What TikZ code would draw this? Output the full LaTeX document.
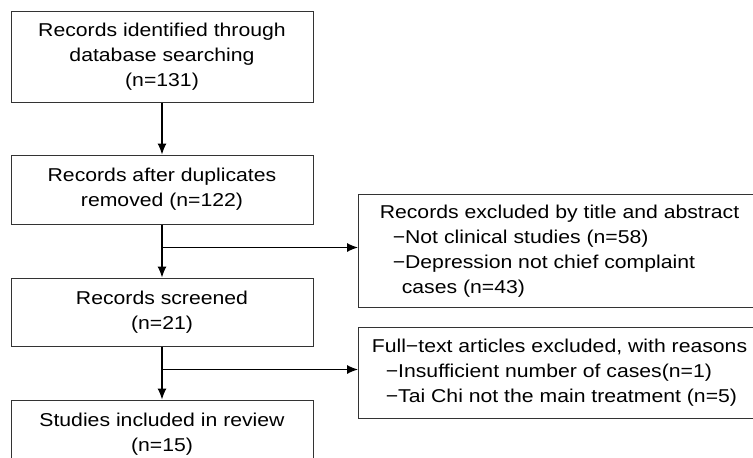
\documentclass[tikz,border=0pt]{standalone}
\usepackage{fontspec}
\setmainfont{Liberation Sans}[FakeStretch=1.14]
\usetikzlibrary{positioning, arrows.meta}
\tikzset{
arr/.style={-{Latex[length=11pt,width=9pt]}, line width=1.1pt}, % filled arrow heads
every node/.style={font=\fontsize{18.6}{25}\selectfont}, % text size of all boxes
box/.style={draw=black!80, line width=1pt, minimum width=302pt, align=center, inner sep=0pt}, % main column
side/.style={draw=black!80, line width=1pt, minimum width=402pt, align=left, inner sep=0pt}, % exclusion boxes
}
\begin{document}
\begin{tikzpicture}
            \useasboundingbox (0,0) rectangle (753pt,-458pt);
            \clip (0,0) rectangle (753pt,-458pt);
            \node[box, minimum height=91pt] (ident) at (162pt,-56.5pt) {Records identified through\\database searching\\(n=131)};
            \node[box, below=52pt of ident, minimum height=69pt] (dup) {Records after duplicates\\removed (n=122)};
            \node[box, below=53pt of dup, minimum height=68pt] (screen) {Records screened\\(n=21)};
            \node[box, below=53pt of screen, minimum height=69pt] (incl) {Studies included in review\\(n=15)};
            \coordinate (b1) at ([yshift=-23pt]dup.south);
            \coordinate (b2) at ([yshift=-23pt]screen.south);
            \node[side, right=196pt of b1, yshift=-3.5pt, minimum height=113pt] (excl) {Records excluded by title and abstract\\
                \hspace*{13pt}−Not clinical studies (n=58)\\
                \hspace*{13pt}−Depression not chief complaint\\
                \hspace*{22pt}cases (n=43)};
            \node[side, right=196pt of b2, yshift=-3.5pt, minimum height=91pt] (full) {Full−text articles excluded, with reasons\\
                \hspace*{14pt}−Insufficient number of cases(n=1)\\
                \hspace*{14pt}−Tai Chi not the main treatment (n=5)};
            \draw[arr] (ident.south) -- (dup.north);
            \draw[arr] (dup.south) -- (screen.north);
            \draw[arr] (screen.south) -- (incl.north);
            \draw[arr] (b1) -- (b1 -| excl.west);
            \draw[arr] (b2) -- (b2 -| full.west);
\end{tikzpicture}
\end{document}
